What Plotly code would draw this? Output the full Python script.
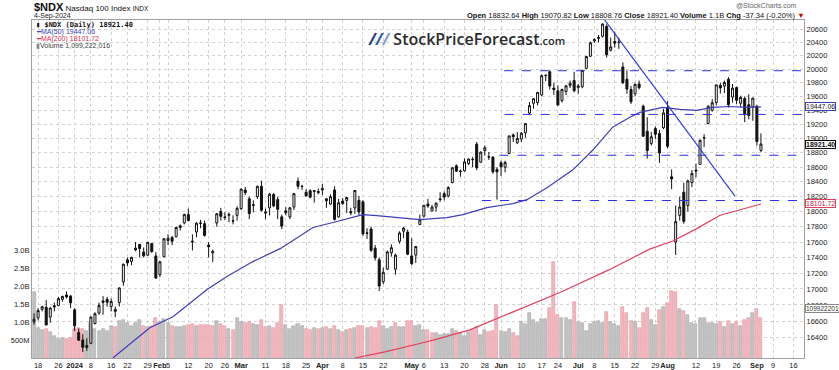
import numpy as np
import pandas as pd
import plotly.graph_objects as go

# ---------------- data ----------------
holidays = ['2023-12-25', '2024-01-01', '2024-01-15', '2024-02-19', '2024-03-29',
            '2024-05-27', '2024-06-19', '2024-07-04', '2024-09-02']
first_day = '2023-12-15'
axis_last_day = '2024-09-20'

opens = [16593, 16640, 16745, 16770, 16650, 16790, 16790, 16870, 16925, 16910,
         16740, 16460, 16370, 16280, 16330, 16570, 16700, 16850, 16870, 16780, 16720, 16830, 17090, 17370, 17350, 17520, 17570, 17470, 17430, 17580, 17420,
         17180, 17410, 17620, 17660, 17670, 17790, 17850, 17960, 17610, 17730, 17850, 17840, 17560, 17460, 17850, 18000, 17930, 17950, 17880, 17950,
         18040, 18290, 18170, 18080, 18200, 18340, 17980, 18050, 18230, 18160, 17930, 18010, 17930, 18060, 18410, 18340, 18260, 18280, 18270, 18270,
         18290, 18170, 18100, 18290, 17930, 18140, 18150, 18000, 18050, 18150, 18130, 17720, 17770, 17520, 17370, 17090, 17250, 17460, 17250, 17610, 17740, 17730,
         17420, 17430, 17830, 17940, 18100, 18010, 18060, 18170, 18240, 18210, 18390, 18620, 18540, 18550, 18650, 18710, 18920, 18670, 18830, 18740, 18740, 18570,
         18660, 18600, 18790, 19050, 18940, 18990, 19080, 19360, 19500, 19510, 19620, 19900, 19960, 19720, 19680, 19540, 19670, 19760, 19830,
         19730, 19740, 20010, 20190, 20420, 20470, 20490, 20640, 20280, 20410, 20400, 20030, 19850, 19700, 19640, 19780, 19460, 19100, 18930, 19140, 19070, 19150,
         19440, 18470, 17600, 17950, 18260, 18080, 18390, 18560, 18640, 19010, 19210, 19400, 19510, 19760, 19750, 19850, 19590, 19730, 19500, 19570, 19480, 19450,
         19460, 18832.64]
highs = [16695, 16760, 16790, 16860, 16770, 16830, 16900, 16915, 16969, 16925,
         16760, 16510, 16440, 16390, 16660, 16710, 16830, 16910, 16900, 16880, 16780, 17020, 17320, 17400, 17410, 17600, 17570, 17530, 17600, 17590, 17470,
         17350, 17650, 17700, 17680, 17800, 17830, 17970, 18040, 17700, 17860, 17890, 17880, 17600, 17500, 17980, 18050, 17990, 17990, 17950, 18070,
         18310, 18330, 18200, 18150, 18350, 18416, 18040, 18250, 18250, 18200, 17960, 18060, 18060, 18250, 18460, 18360, 18300, 18300, 18280, 18310,
         18370, 18180, 18230, 18340, 18170, 18180, 18190, 18050, 18290, 18210, 18150, 17780, 17800, 17560, 17400, 17270, 17490, 17570, 17450, 17740, 17800, 17760,
         17650, 17550, 17960, 18080, 18170, 18090, 18120, 18260, 18270, 18340, 18600, 18640, 18570, 18720, 18720, 18740, 18950, 18820, 18900, 18810, 18750, 18600,
         18690, 18690, 19040, 19070, 19090, 19090, 19210, 19520, 19570, 19660, 19920, 19920, 19980, 19800, 19760, 19710, 19760, 19830, 19960,
         19780, 19990, 20190, 20410, 20460, 20510, 20690, 20670, 20470, 20560, 20470, 20100, 19980, 19750, 19790, 19830, 19480, 19300, 19090, 19170, 19120, 19420,
         19530, 18570, 18080, 18200, 18390, 18430, 18560, 18650, 18980, 19060, 19470, 19560, 19770, 19800, 19830, 19880, 19780, 19740, 19610, 19600, 19630, 19580,
         19470, 19070.82]
lows = [16558, 16610, 16720, 16550, 16580, 16720, 16790, 16840, 16880, 16760,
        16480, 16360, 16226, 16240, 16320, 16560, 16680, 16680, 16780, 16720, 16650, 16780, 17040, 17290, 17300, 17480, 17400, 17400, 17420, 17460, 17130,
        17150, 17400, 17560, 17560, 17660, 17750, 17830, 17870, 17490, 17660, 17780, 17670, 17400, 17340, 17800, 17880, 17890, 17860, 17830, 17880,
        18020, 18220, 17900, 17990, 18170, 18000, 17900, 17950, 18060, 17900, 17770, 17950, 17900, 18020, 18300, 18290, 18200, 18180, 18120, 18230,
        18220, 18050, 18090, 17880, 17920, 18090, 17980, 17950, 17970, 17950, 17680, 17640, 17470, 17360, 16973, 17060, 17240, 17410, 17180, 17580, 17650, 17430,
        17300, 17330, 17820, 17920, 18050, 18000, 18000, 18130, 18150, 18190, 18380, 18540, 18470, 18540, 18630, 18600, 18560, 18660, 18760, 18700, 18510, 18160,
        18480, 18530, 18780, 18950, 18920, 18950, 19010, 19330, 19420, 19470, 19600, 19820, 19700, 19620, 19470, 19510, 19620, 19720, 19660,
        19640, 19720, 20000, 20180, 20390, 20400, 20470, 20170, 20260, 20320, 20300, 19780, 19640, 19490, 19600, 19700, 19020, 18720, 18900, 18990, 18660, 19130,
        18860, 18300, 17433, 17880, 17840, 18000, 18330, 18460, 18640, 18880, 19200, 19380, 19470, 19640, 19650, 19440, 19510, 19490, 19440, 19230, 19270, 19250,
        18900, 18808.76]
closes = [16623, 16730, 16778, 16553, 16762, 16777, 16878, 16906, 16898, 16826,
          16543, 16368, 16282, 16305, 16650, 16691, 16792, 16832, 16833, 16843, 16745, 17012, 17314, 17330, 17401, 17499, 17516, 17421, 17597, 17476, 17137,
          17345, 17642, 17648, 17610, 17790, 17812, 17963, 17882, 17601, 17846, 17845, 17686, 17539, 17477, 17972, 17937, 17921, 17962, 17874, 18044,
          18302, 18254, 17975, 18090, 18339, 18019, 17994, 18232, 18076, 18030, 17808, 17985, 18051, 18240, 18339, 18339, 18211, 18193, 18280, 18254,
          18309, 18145, 18199, 17896, 18118, 18107, 18189, 17983, 18283, 17995, 17706, 17713, 17493, 17395, 17037, 17210, 17471, 17526, 17430, 17718, 17782, 17441,
          17321, 17541, 17890, 18084, 18074, 18060, 18113, 18161, 18194, 18323, 18593, 18546, 18546, 18674, 18713, 18705, 18592, 18808, 18869, 18744, 18538, 18536,
          18608, 18667, 19035, 19024, 19000, 19074, 19210, 19466, 19566, 19659, 19903, 19908, 19752, 19700, 19474, 19701, 19753, 19790, 19682,
          19750, 19980, 20186, 20392, 20439, 20460, 20675, 20211, 20331, 20386, 20400, 19799, 19706, 19522, 19775, 19726, 19032, 18830, 19023, 19059, 18797, 19362,
          18890, 18440, 17867, 18061, 17870, 18413, 18513, 18549, 18975, 19007, 19458, 19508, 19767, 19721, 19802, 19478, 19720, 19543, 19585, 19350, 19325, 19575,
          18958.74, 18921.40]
prev_close_before_first = 16509
volume_b = [1.84, 0.82, 0.78, 0.80, 0.73, 0.60, 0.52, 0.56, 0.52, 0.56,
            0.80, 0.82, 0.80, 0.74, 0.98, 0.80, 0.76, 0.80, 0.74, 0.88, 0.86, 1.04, 1.05, 0.98, 0.88, 0.98, 1.06, 0.90, 0.85, 0.88, 1.10,
            1.00, 1.07, 0.98, 0.90, 0.87, 0.85, 0.90, 0.93, 0.95, 0.88, 0.92, 0.93, 0.92, 0.90, 1.02, 0.95, 0.88, 0.80, 0.78, 1.12,
            1.00, 0.98, 1.00, 0.95, 0.92, 1.05, 0.85, 0.88, 0.83, 0.97, 1.47, 0.92, 0.80, 0.88, 0.95, 0.88, 0.80, 0.78, 0.82, 0.80,
            0.82, 0.87, 0.80, 0.90, 0.78, 0.72, 0.78, 0.80, 0.84, 0.90, 0.88, 0.82, 0.85, 0.82, 1.02, 0.88, 0.80, 0.85, 0.98, 0.85, 0.86, 1.03,
            1.04, 0.89, 0.92, 0.78, 0.78, 0.69, 0.69, 0.64, 0.66, 0.68, 0.80, 0.76, 0.69, 0.61, 0.72, 0.78, 0.87, 0.64, 0.78, 0.71, 0.76, 1.47,
            0.76, 0.71, 0.80, 0.69, 0.61, 1.00, 0.94, 1.24, 1.06, 0.98, 1.08, 1.08, 1.38, 2.68, 1.20, 1.10, 1.10, 1.06, 1.55,
            1.01, 0.98, 0.75, 0.94, 1.01, 1.03, 0.98, 1.29, 1.01, 0.94, 0.89, 1.41, 1.26, 1.03, 1.01, 0.83, 1.26, 1.38, 1.06, 0.92, 1.33, 1.41,
            1.54, 1.85, 1.82, 1.35, 1.30, 1.19, 0.96, 0.94, 1.10, 1.10, 0.98, 0.96, 0.94, 1.00, 0.87, 1.03, 0.94, 1.01, 0.89, 1.05, 1.10, 1.24,
            1.35, 1.099222016]

# moving averages (trading-day position, value)
ma50_pos = [19.4, 24.9, 28.5, 34.2, 42.6, 47.5, 53.9, 60.6, 68.7, 73.6, 81.0, 84.4, 89.4, 95.0, 101.7, 105.6,
            111.5, 117.9, 121.4, 126.3, 132.7, 137.6, 142.5, 146.7, 149.2, 154.8, 159.0, 163.2, 167.1, 171.3, 175.5, 179]
ma50_val = [16154, 16372, 16519, 16655, 16993, 17156, 17347, 17514, 17790, 17856, 17960, 17947, 17920, 17894, 17920, 17960,
            18053, 18107, 18159, 18320, 18564, 18838, 19158, 19300, 19369, 19440, 19412, 19397, 19440, 19454, 19440, 19447.06]
ma200_pos = [79.0, 86.4, 94.5, 99.2, 107.3, 114.0, 122.1, 129.5, 141.8, 151.6, 157.3, 163.2, 168.8, 179]
ma200_val = [16154, 16227, 16322, 16380, 16494, 16630, 16803, 16955, 17247, 17507, 17613, 17775, 17948, 18101.72]

# analyst drawings (price levels and trend line)
level_price = [19975, 19340, 18765, 18148]
level_start = [115.7, 115.9, 114.6, 110.3]
trend_pos = [140.5, 172.6]
trend_price = [20740, 18207]

price_ticks = [16400, 16600, 16800, 17000, 17200, 17400, 17600, 17800, 18000, 18200, 18400,
               18600, 18800, 19000, 19200, 19400, 19600, 19800, 20000, 20200, 20400, 20600]
vol_ticks_b = [0.5, 1.0, 1.5, 2.0, 2.5, 3.0]
vol_tick_text = ['500M', '1.0B', '1.5B', '2.0B', '2.5B', '3.0B']
tick_dates = ['2023-12-18', '2023-12-26', '2024-01-02', '2024-01-08', '2024-01-16', '2024-01-22', '2024-01-29',
              '2024-02-01', '2024-02-05', '2024-02-12', '2024-02-20', '2024-02-26', '2024-03-01', '2024-03-11',
              '2024-03-18', '2024-03-25', '2024-04-01', '2024-04-08', '2024-04-15', '2024-04-22', '2024-05-01',
              '2024-05-06', '2024-05-13', '2024-05-20', '2024-05-28', '2024-06-03', '2024-06-10', '2024-06-17',
              '2024-06-24', '2024-07-01', '2024-07-08', '2024-07-15', '2024-07-22', '2024-07-29', '2024-08-01',
              '2024-08-12', '2024-08-19', '2024-08-26', '2024-09-03', '2024-09-09', '2024-09-16']
tick_text = ['18', '26', '<b>2024</b>', '8', '16', '22', '29', '<b>Feb</b>', '5', '12', '20', '26', '<b>Mar</b>', '11',
             '18', '25', '<b>Apr</b>', '8', '15', '22', '<b>May</b>', '6', '13', '20', '28', '<b>Jun</b>', '10', '17',
             '24', '<b>Jul</b>', '8', '15', '22', '29', '<b>Aug</b>', '12', '19', '26', '<b>Sep</b>', '9', '16']

# ---------------- build ----------------
days = [d for d in pd.bdate_range(first_day, axis_last_day) if d.strftime('%Y-%m-%d') not in holidays]
day_pos = {d.strftime('%Y-%m-%d'): i for i, d in enumerate(days)}
n = len(closes)
assert all(len(a) == n for a in (opens, highs, lows, volume_b))
xpos = list(range(n))
tick_pos = [day_pos[d] for d in tick_dates]
x_range = [-0.5, 189.6]

volume = [v * 1e9 for v in volume_b]
prev = [prev_close_before_first] + closes[:-1]
down = [c < p for c, p in zip(closes, prev)]
vol_fill = ['#f3b7bf' if d else '#c3c3c3' for d in down]
vol_edge = ['#e4939e' if d else '#a6a6a6' for d in down]

FONT = 'Liberation Sans, Arial, sans-serif'
W, H = 839, 370
ML, MR, MT, MB = 32, 35, 20, 12
PW, PH = W - ML - MR, H - MT - MB


def fx(px):
    return (px - ML) / PW


def fy(py):
    return 1 - (py - MT) / PH


fig = go.Figure()
fig.add_trace(go.Bar(x=xpos, y=volume, width=0.74, yaxis='y',
                     marker=dict(color=vol_fill, line=dict(color=vol_edge, width=0.6)),
                     hoverinfo='skip', showlegend=False))
fig.add_trace(go.Candlestick(x=xpos, open=opens, high=highs, low=lows, close=closes, yaxis='y2',
                             whiskerwidth=0,
                             increasing=dict(line=dict(color='#111111', width=1), fillcolor='white'),
                             decreasing=dict(line=dict(color='#111111', width=1), fillcolor='#111111'),
                             showlegend=False))
fig.add_trace(go.Scatter(x=ma200_pos, y=ma200_val, yaxis='y2', mode='lines',
                         line=dict(color='#e0405e', width=1.2), showlegend=False, hoverinfo='skip'))
fig.add_trace(go.Scatter(x=ma50_pos, y=ma50_val, yaxis='y2', mode='lines',
                         line=dict(color='#3d3db8', width=1.2), showlegend=False, hoverinfo='skip'))
for lv, st in zip(level_price, level_start):
    fig.add_trace(go.Scatter(x=[st, x_range[1]], y=[lv, lv], yaxis='y2', mode='lines',
                             line=dict(color='#2f2ff0', width=1, dash='dash'), showlegend=False, hoverinfo='skip'))
fig.add_trace(go.Scatter(x=trend_pos, y=trend_price, yaxis='y2', mode='lines',
                         line=dict(color='#2f3fe8', width=1.2), showlegend=False, hoverinfo='skip'))

grid = dict(showgrid=True, gridcolor='#d2d2d2', griddash='dot', gridwidth=1)
fig.update_layout(
    width=W, height=H, margin=dict(l=ML, r=MR, t=MT, b=MB, autoexpand=False),
    paper_bgcolor='white', plot_bgcolor='white', showlegend=False,
    font=dict(family=FONT, size=8, color='#222'),
    bargap=0,
    xaxis=dict(range=x_range, tickmode='array', tickvals=tick_pos, ticktext=tick_text, tickangle=0,
               tickfont=dict(size=7.5, color='#222'), ticks='', showline=True, mirror=True, automargin=False,
               linecolor='#a0a0a0', linewidth=1, zeroline=False, rangeslider=dict(visible=False), **grid),
    yaxis=dict(range=[0, PH / 36 * 1e9], side='left', tickmode='array', automargin=False,
               tickvals=[v * 1e9 for v in vol_ticks_b], ticktext=vol_tick_text,
               tickfont=dict(size=7.5, color='#222'), ticks='', showgrid=False, zeroline=False,
               showline=True, linecolor='#a0a0a0'),
    yaxis2=dict(overlaying='y', side='right', type='log', automargin=False,
                range=[np.log10(16154), np.log10(20738)], tickmode='array', tickvals=price_ticks,
                ticktext=[str(t) for t in price_ticks], tickfont=dict(size=7.5, color='#222'), ticks='',
                showline=True, linecolor='#a0a0a0', zeroline=False, **grid),
)

# legend box (top-left)
fig.add_shape(type='rect', xref='paper', yref='paper', x0=0, x1=fx(142), y0=fy(50), y1=1,
              fillcolor='white', line=dict(width=0), layer='between')
mono = 'DejaVu Sans Mono, Liberation Mono, monospace'
legend_lines = [
    (24.5, f"<b>▮ $NDX (Daily) {closes[-1]:.2f}</b>", '#111', mono, 7),
    (31.5, f"━MA(50) {ma50_val[-1]:.2f}", '#3d3db8', FONT, 7),
    (38.5, f"━MA(200) {ma200_val[-1]:.2f}", '#dd3050', FONT, 7),
    (45.5, f"<span style='color:#888'>▮</span>Volume {round(volume[-1]):,}", '#444', FONT, 7),
]
for py, txt, col, fam, sz in legend_lines:
    fig.add_annotation(xref='paper', yref='paper', x=fx(34), y=fy(py), xanchor='left', yanchor='middle',
                       text=txt, showarrow=False, font=dict(family=fam, size=sz, color=col))

# header texts
fig.add_annotation(xref='paper', yref='paper', x=fx(32), y=fy(6.5), xanchor='left', yanchor='middle',
                   showarrow=False,
                   text="<b><span style='font-size:11px'>$NDX</span></b> <span style='font-size:8px'>Nasdaq 100 Index</span> <span style='font-size:6.5px'>INDX</span>",
                   font=dict(family=FONT, size=8, color='#111'))
fig.add_annotation(xref='paper', yref='paper', x=fx(32), y=fy(15.5), xanchor='left', yanchor='middle',
                   showarrow=False, text=days[n - 1].strftime('%-d-%b-%Y'),
                   font=dict(family=FONT, size=7, color='#222'))
fig.add_annotation(xref='paper', yref='paper', x=fx(799), y=fy(5), xanchor='right', yanchor='middle',
                   showarrow=False, text='@StockCharts.com', font=dict(family=FONT, size=7, color='#666'))
chg = closes[-1] - closes[-2]
pct = chg / closes[-2] * 100
hdr = (f"<b>Open</b> {opens[-1]:.2f} <b>High</b> {highs[-1]:.2f} <b>Low</b> {lows[-1]:.2f} "
       f"<b>Close</b> {closes[-1]:.2f} <b>Volume</b> {volume[-1]/1e9:.1f}B <b>Chg</b> {chg:.2f} ({pct:.2f}%) "
       f"<span style='color:#c00'>▼</span>")
fig.add_annotation(xref='paper', yref='paper', x=fx(807), y=fy(15), xanchor='right', yanchor='middle',
                   showarrow=False, text=hdr, font=dict(family=FONT, size=7.5, color='#111'))

# watermark
fig.add_annotation(xref='paper', yref='paper', x=fx(366), y=fy(39), xanchor='left', yanchor='middle',
                   showarrow=False,
                   text=("<b><i><span style='color:#1d3f7e'>/</span><span style='color:#2d5fae'>/</span>"
                         "<span style='color:#7f9fd0'>/</span></i></b> "
                         "<span style='color:#2b2b2b'>StockPriceForecast</span>"
                         "<span style='color:#2b2b2b;font-size:11px'>.com</span>"),
                   font=dict(family='Open Sans, sans-serif', size=16, color='#2b2b2b', weight=600))

# right-side value tags
tags = [
    (ma50_val[-1], f"{ma50_val[-1]:.2f}", '#3d3db8', '#222', False),
    (closes[-1], f"{closes[-1]:.2f}", '#111', '#111', True),
    (ma200_val[-1], f"{ma200_val[-1]:.2f}", '#e0405e', '#c02040', False),
]
for val, txt, bc, tc, bold in tags:
    fig.add_annotation(xref='paper', yref='y2', x=1, y=np.log10(val), xanchor='left', yanchor='middle',
                       xshift=1, showarrow=False, text=f"<b>{txt}</b>" if bold else txt,
                       bgcolor='white', bordercolor=bc, borderwidth=1, borderpad=0,
                       font=dict(family=FONT, size=7, color=tc))
fig.add_annotation(xref='paper', yref='y', x=1, y=volume[-1], xanchor='left', yanchor='middle', xshift=1,
                   yshift=10, showarrow=False, text=f"{round(volume[-1])}", bgcolor='white',
                   bordercolor='#888', borderwidth=1, borderpad=0, font=dict(family=FONT, size=6.5, color='#333'))

fig.write_html('out.html', config={'displayModeBar': False},
               post_script="document.body.style.margin='0px';document.body.style.overflow='hidden';")
